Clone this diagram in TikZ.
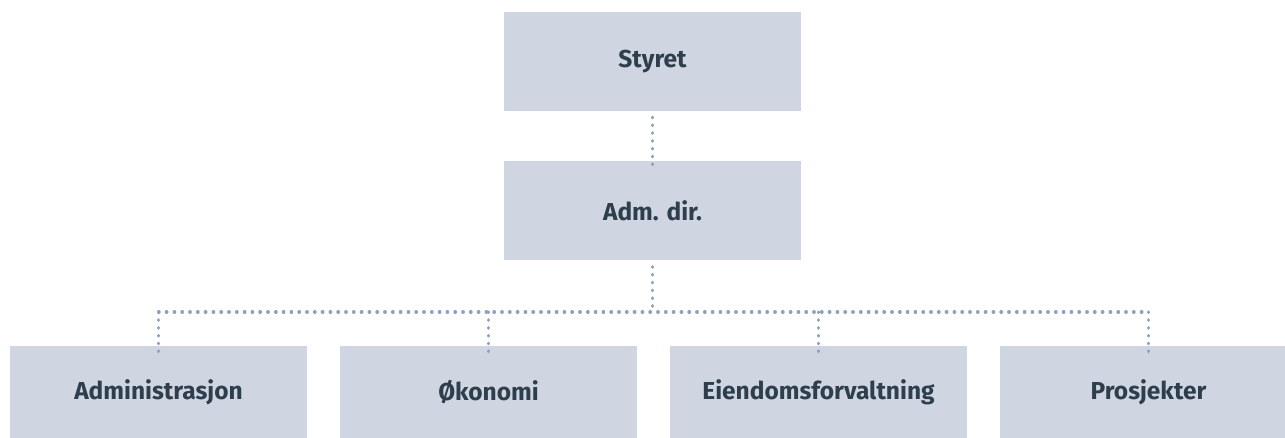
\documentclass[tikz,border=0pt]{standalone}
\usepackage{fontspec}
\setmainfont{Fira Sans}
\definecolor{boxfill}{HTML}{CFD6E1}
\definecolor{boxtext}{HTML}{2F3E4C}
\definecolor{dotcol}{HTML}{8EA2BC}
\begin{document}
\begin{tikzpicture}[x=1pt,y=-1pt,
  orgbox/.style={fill=boxfill, minimum width=297pt, minimum height=99pt, inner sep=0pt,
    font=\fontsize{24.5}{28}\selectfont\bfseries, text=boxtext},
  lowbox/.style={orgbox, minimum height=92pt},
  dotline/.style={draw=dotcol, line width=3.2pt, line cap=round, dash pattern=on 0.6pt off 7.2pt}]
\useasboundingbox (0,0) rectangle (1285,438);
\clip (0,0) rectangle (1285,438);
\node[orgbox] (styret) at (652.5,61.5) {Styret};
\node[orgbox] (adm) at (652.5,210.5) {Adm. dir.};
\node[lowbox] (admin) at (158.5,392) {Administrasjon};
\node[lowbox] (okon) at (488.5,392) {Økonomi};
\node[lowbox] (eiend) at (818.5,392) {Eiendomsforvaltning};
\node[lowbox] (prosj) at (1148.5,392) {Prosjekter};
\coordinate (bus) at (652.5,312);
\path[dotline] (styret.south) ++(0,6) -- ([yshift=-6pt]adm.north);
\path[dotline] (adm.south) ++(0,6.5) -- (bus);
\path[dotline] (admin.north |- bus) -- (prosj.north |- bus);
\foreach \n in {admin,okon,eiend,prosj}{
  \path[dotline] (\n.north |- bus) -- ([yshift=-6pt]\n.north);
}
\end{tikzpicture}
\end{document}
